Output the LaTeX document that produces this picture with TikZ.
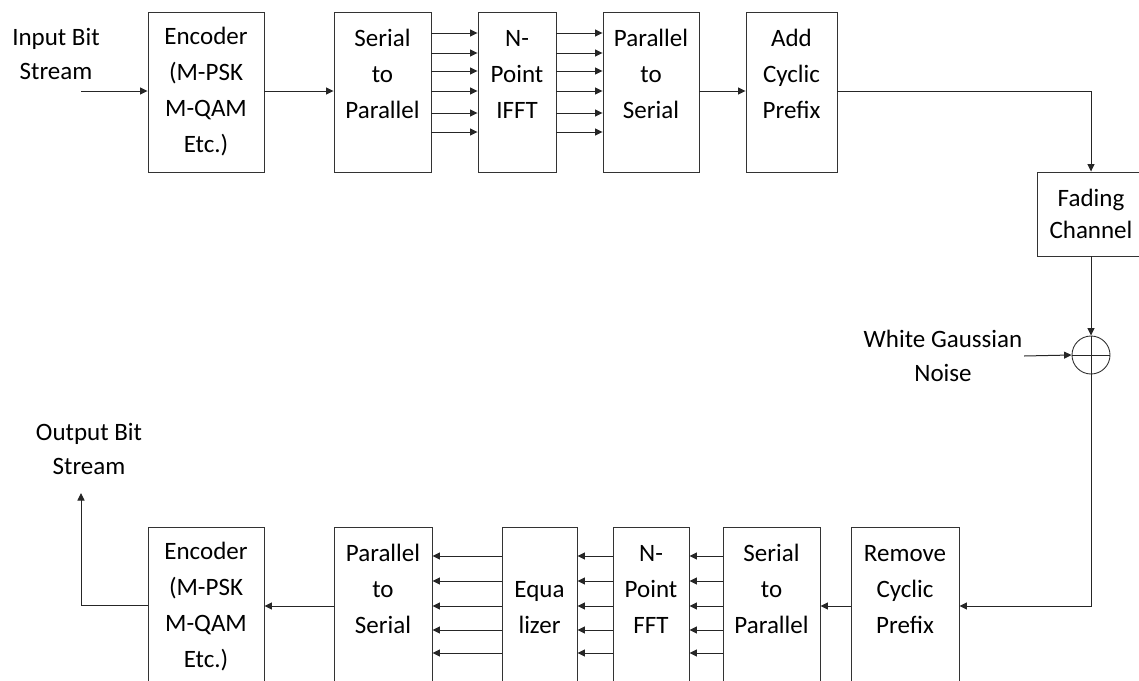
\documentclass[tikz,border=0pt]{standalone}
\usepackage{fontspec}
\setmainfont{Carlito}
\usetikzlibrary{arrows.meta}
\begin{document}
\begin{tikzpicture}[x=1pt,y=-1pt,
  blk/.style={draw=black!80,line width=0.9pt,inner sep=0pt,align=center,
    font=\fontsize{25}{36}\selectfont,text=black},
  lbl/.style={inner sep=0pt,align=center,font=\fontsize{25}{34}\selectfont,text=black},
  arr/.style={draw=black!85,line width=1pt,-{Triangle[length=7.5pt,width=7pt]}},
  ln/.style={draw=black!85,line width=1pt}]
\useasboundingbox (0,0) rectangle (1139,680);
\clip (0,0) rectangle (1139,680);
% top row
\node[blk,minimum width=116pt,minimum height=160pt] (enc1) at (206,92) {Encoder\\(M-PSK\\M-QAM\\Etc.)};
\node[blk,minimum width=97pt,minimum height=160pt] (sp1) at (382.5,92) {Serial\\to\\Parallel\\\mbox{}};
\node[blk,minimum width=78pt,minimum height=160pt] (ifft) at (517,92) {N-\\Point\\IFFT\\\mbox{}};
\node[blk,minimum width=96pt,minimum height=160pt] (ps1) at (651,92) {Parallel\\to\\Serial\\\mbox{}};
\node[blk,minimum width=91pt,minimum height=160pt] (acp) at (791.5,92) {Add\\Cyclic\\Prefix\\\mbox{}};
\node[blk,minimum width=108pt,minimum height=84pt,font=\fontsize{25}{32}\selectfont] (fade) at (1091,214) {Fading\\Channel};
\node[draw=black!80,line width=0.9pt,circle,minimum size=38pt,inner sep=0pt] (sum) at (1091,355) {};
\draw[ln] (sum.north) -- (sum.south) (sum.west) -- (sum.east);
% bottom row
\node[blk,minimum width=108pt,minimum height=160pt] (rcp) at (905,607) {Remove\\Cyclic\\Prefix\\\mbox{}};
\node[blk,minimum width=97pt,minimum height=160pt] (sp2) at (771.5,607) {Serial\\to\\Parallel\\\mbox{}};
\node[blk,minimum width=76pt,minimum height=160pt] (fft) at (651,607) {N-\\Point\\FFT\\\mbox{}};
\node[blk,minimum width=75pt,minimum height=160pt] (eq) at (539.5,607) {\phantom{E}\\Equa\\lizer\\\mbox{}};
\node[blk,minimum width=98pt,minimum height=160pt] (ps2) at (383,607) {Parallel\\to\\Serial\\\mbox{}};
\node[blk,minimum width=116pt,minimum height=160pt] (enc2) at (206,607) {Encoder\\(M-PSK\\M-QAM\\Etc.)};
% labels
\node[lbl] (inlbl) at (56,54) {Input Bit\\Stream};
\node[lbl] (noise) at (943,356) {White Gaussian\\Noise};
\node[lbl] (outlbl) at (89,449) {Output Bit\\Stream};
\coordinate (in) at (81,91);
\coordinate (nz) at (1024,356);
\coordinate (out) at (81,493);
% connectors
\draw[arr] (in) -- (enc1.west |- in);
\draw[arr] (enc1.east |- 0,91) -- (sp1.west |- 0,91);
\foreach \y in {33,53,71,91,113,132} {
  \draw[arr] (sp1.east |- 0,\y) -- (ifft.west |- 0,\y);
  \draw[arr] (ifft.east |- 0,\y) -- (ps1.west |- 0,\y);
}
\draw[arr] (ps1.east |- 0,91) -- (acp.west |- 0,91);
\draw[arr] (acp.east |- 0,91) -| (fade.north);
\draw[arr] (fade.south) -- (sum.north);
\draw[arr] (nz) -- (sum.west);
\draw[arr] (sum.south) |- (rcp.east |- 0,606);
\draw[arr] (rcp.west |- 0,606) -- (sp2.east |- 0,606);
\foreach \y in {556,581,606,630,653} {
  \draw[arr] (sp2.west |- 0,\y) -- (fft.east |- 0,\y);
  \draw[arr] (fft.west |- 0,\y) -- (eq.east |- 0,\y);
  \draw[arr] (eq.west |- 0,\y) -- (ps2.east |- 0,\y);
}
\draw[arr] (ps2.west |- 0,606) -- (enc2.east |- 0,606);
\draw[arr] (enc2.west |- 0,605) -| (out);
\end{tikzpicture}
\end{document}
